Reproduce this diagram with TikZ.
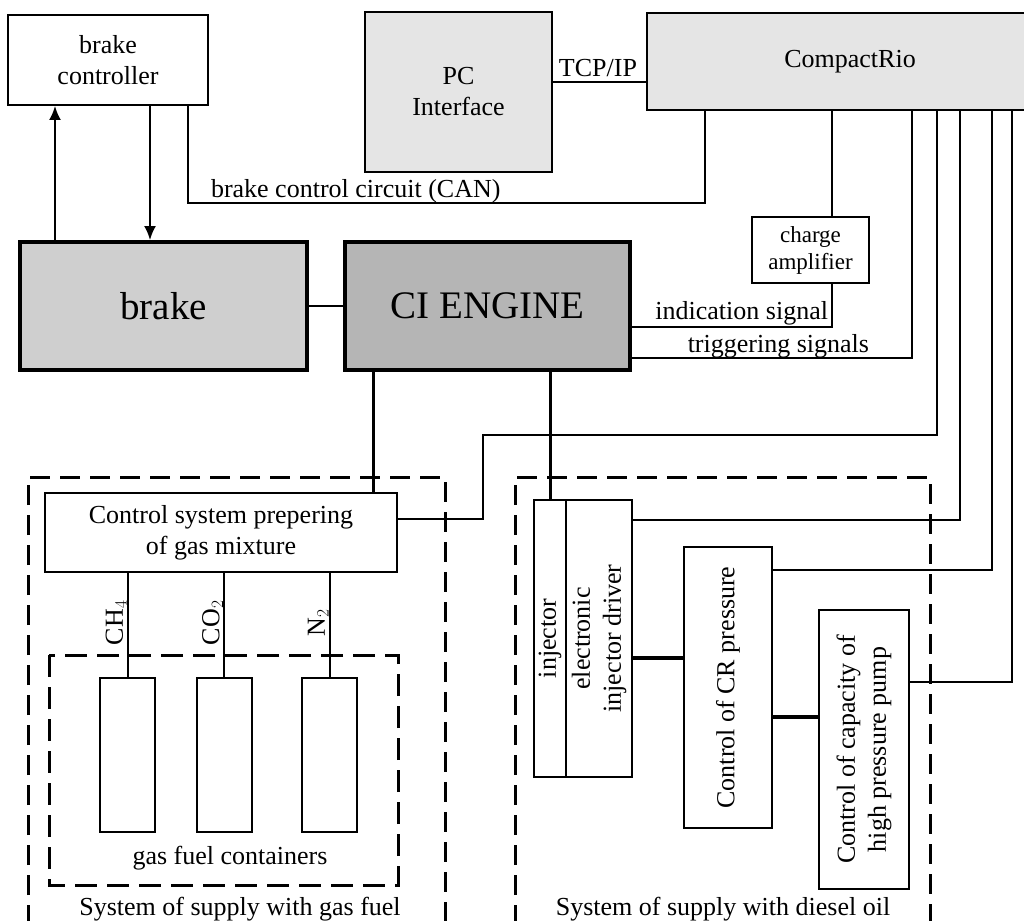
\documentclass[tikz,border=0pt]{standalone}
\usepackage{fontspec}
\setmainfont{Liberation Serif}
\usetikzlibrary{arrows.meta}
\definecolor{lightbox}{gray}{0.90}
\definecolor{brakegray}{gray}{0.81}
\definecolor{enginegray}{gray}{0.71}

\begin{document}
\begin{tikzpicture}[x=1pt, y=-1pt, line width=2pt,
  box/.style={draw, line width=2pt, inner sep=0pt, align=center, font=\fontsize{26}{31}\selectfont},
  bigbox/.style={draw, line width=4pt, inner sep=0pt, font=\fontsize{39}{46}\selectfont},
  lbl/.style={inner sep=0pt, font=\fontsize{26}{31}\selectfont},
  vlbl/.style={lbl, rotate=90, align=center},
  frame/.style={line width=3pt, dash pattern=on 20pt off 10pt},
  link/.style={line width=4pt},
  >={Latex[length=14pt,width=12pt]}]
  \useasboundingbox (0,0) rectangle (1024,920);
  % frames
  \draw[frame] (28,925) -- (28,477) -- (445,477) -- (445,925);
  \draw[frame, dash pattern=on 22pt off 10pt] (49,655) rectangle (398,885);
  \draw[frame] (515,925) -- (515,477) -- (930,477) -- (930,925);
  % top row
  \node[box, minimum width=200, minimum height=90] (bctrl) at (108,60) {brake\\controller};
  \node[box, fill=lightbox, minimum width=187, minimum height=160] (pc) at (458.5,92) {PC\\Interface};
  \node[box, fill=lightbox, minimum width=406, minimum height=97] (crio) at (850,61.5) {CompactRio};
  \node[box, minimum width=117, minimum height=66, font=\fontsize{23}{27}\selectfont] (camp) at (810.5,250) {charge\\amplifier};
  % engine bed
  \node[bigbox, fill=brakegray, minimum width=287, minimum height=128] (brake) at (163.5,306) {brake};
  \node[bigbox, fill=enginegray, minimum width=285, minimum height=128] (engine) at (487.5,306) {CI ENGINE};
  % gas fuel
  \node[box, minimum width=352, minimum height=79] (ctrl) at (221,532.5) {Control system prepering\\of gas mixture};
  \foreach \n/\x in {1/127.5, 2/224, 3/329.5}
    \node[box, minimum width=55, minimum height=154] (cont\n) at (\x,755) {};
  % diesel oil
  \node[box, minimum width=32, minimum height=277] (inj) at (550,638.5) {};
  \node[box, minimum width=66, minimum height=277] (drv) at (599,638.5) {};
  \node[box, minimum width=88, minimum height=281] (crp) at (728,687.5) {};
  \node[box, minimum width=90, minimum height=279] (pump) at (864,749.5) {};
  \node[vlbl] (injT) at (inj.center) {injector};
  \node[vlbl] (drvT) at (drv.center) {electronic\\injector driver};
  \node[vlbl] (crpT) at (crp.center) {Control of CR pressure};
  \node[vlbl] (pumpT) at (pump.center) {Control of capacity of\\high pressure pump};
  % connections
  \draw[->] (brake.north -| 55,0) -- (bctrl.south -| 55,0);
  \draw[->] (bctrl.south -| 150,0) -- (brake.north -| 150,0);
  \draw (bctrl.south -| 188,0) |- (705,203) -- (crio.south -| 705,0);
  \draw (pc.east |- 0,82) -- (crio.west |- 0,82);
  \draw (crio.south -| 832,0) -- (camp.north -| 832,0);
  \draw (camp.south -| 832,0) |- (engine.east |- 0,327);
  \draw (crio.south -| 912,0) |- (engine.east |- 0,358);
  \draw (crio.south -| 937,0) |- (483,435) |- (ctrl.east |- 0,519);
  \draw (crio.south -| 960,0) |- (drv.east |- 0,520);
  \draw (crio.south -| 992,0) |- (crp.east |- 0,570);
  \draw (crio.south -| 1012,0) |- (pump.east |- 0,682);
  \draw[line width=2.5pt] (brake.east) -- (engine.west);
  \draw[line width=3pt] (engine.south -| 373,0) -- (ctrl.north -| 373,0);
  \draw[line width=3pt] (engine.south -| inj.north) -- (inj.north);
  \draw[link] (drv.east |- 0,658) -- (crp.west |- 0,658);
  \draw[link] (crp.east |- 0,717) -- (pump.west |- 0,717);
  \foreach \n/\g in {1/CH$_4$, 2/CO$_2$, 3/N$_2$}
    \draw (ctrl.south -| cont\n.north) -- (cont\n.north)
      node[vlbl, anchor=south, pos=0.45, xshift=-3] (gas\n) {\g};
  % labels
  \node[lbl, anchor=base west] (canL) at (210,197) {brake control circuit (CAN)};
  \node[lbl, anchor=base] (tcpL) at (598,77) {TCP/IP};
  \node[lbl, anchor=base east] (indL) at (829,319) {indication signal};
  \node[lbl, anchor=base east] (trgL) at (870,352) {triggering signals};
  \node[lbl, anchor=base] (contL) at (230,864) {gas fuel containers};
  \node[lbl, anchor=base] (gasL) at (240,915) {System of supply with gas fuel};
  \node[lbl, anchor=base] (dslL) at (723,915) {System of supply with diesel oil};
\end{tikzpicture}
\end{document}
